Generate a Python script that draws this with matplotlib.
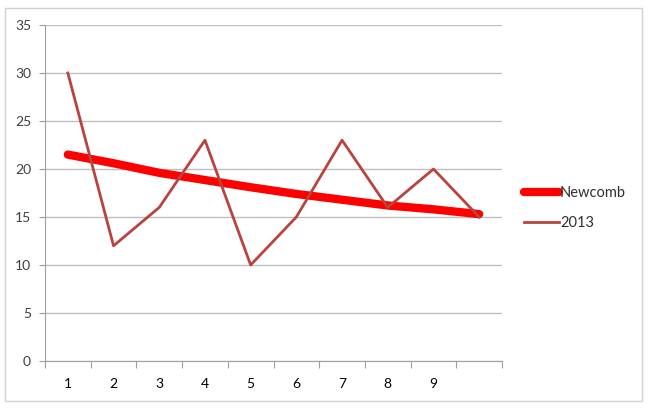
import numpy as np
import matplotlib.pyplot as plt
from matplotlib.patches import Rectangle

# data
categories = [1, 2, 3, 4, 5, 6, 7, 8, 9, 10]
cat_labels = ["1", "2", "3", "4", "5", "6", "7", "8", "9", ""]
newcomb = [21.5, 20.6, 19.6, 18.85, 18.1, 17.4, 16.8, 16.2, 15.8, 15.3]
y2013 = [30, 12, 16, 23, 10, 15, 23, 16, 20, 15]

plt.rcParams['font.family'] = ['Lato', 'DejaVu Sans']

fig = plt.figure(figsize=(6.49, 4.08), dpi=100)
ax = fig.add_axes([45 / 649, 47 / 408, 457 / 649, 336 / 408])

# chart border
fig.patches.append(Rectangle((5 / 649, 7 / 408), 637 / 649, 393 / 408,
                             transform=fig.transFigure, fill=False,
                             edgecolor="#D0D0D0", linewidth=1))

ax.plot(categories, newcomb, color="#FF0000", linewidth=6,
        solid_capstyle="round", label="Newcomb", zorder=3)
ax.plot(categories, y2013, color="#B8433F", linewidth=2,
        label="2013", zorder=4)

ax.set_xlim(0.5, 10.5)
ax.set_ylim(0, 35)
ax.set_yticks(np.arange(0, 36, 5))
ax.yaxis.grid(True, color="#BFBFBF", linewidth=1)
ax.set_axisbelow(True)

# tick marks between categories, labels at centers
ax.set_xticks(np.arange(0.5, 11, 1))
ax.set_xticklabels([])
ax.set_xticks(categories, minor=True)
ax.set_xticklabels(cat_labels, minor=True)
ax.tick_params(axis="x", which="major", length=5, color="#A0A0A0", direction="out")
ax.tick_params(axis="x", which="minor", length=0, pad=12)
ax.tick_params(axis="y", length=4, color="#A0A0A0", direction="out", pad=6)
ax.tick_params(labelsize=10, labelcolor="#404040")

for s in ["top", "right"]:
    ax.spines[s].set_visible(False)
for s in ["left", "bottom"]:
    ax.spines[s].set_color("#A0A0A0")

ax.legend(loc="center left", bbox_to_anchor=(1.02, 0.455), frameon=False,
          fontsize=10.5, handlelength=2.4, handletextpad=0.05, labelspacing=1.1,
          labelcolor="#303030")

fig.savefig("out.png", dpi=100)
